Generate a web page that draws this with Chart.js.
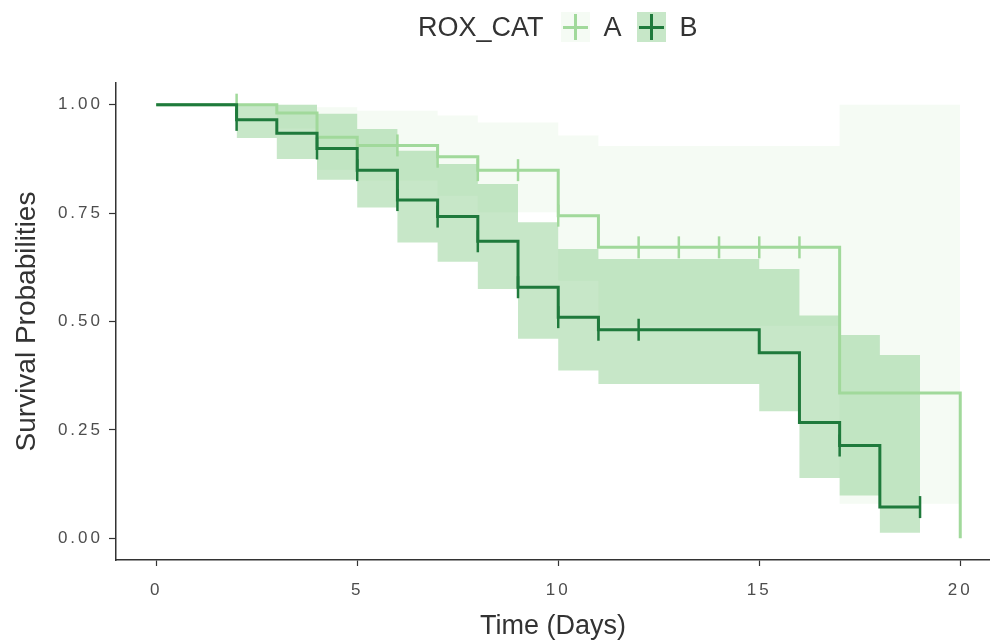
<!DOCTYPE html>
<html>
<head>
<meta charset="utf-8">
<script src="https://cdn.jsdelivr.net/npm/chart.js@4.4.0/dist/chart.umd.min.js"></script>
<style>
  html, body { margin: 0; padding: 0; background: #fff; }
  #wrap { position: relative; width: 990px; height: 641px; }
  #legend {
    position: absolute; left: 418px; top: 12px; height: 30px;
    display: flex; align-items: center;
    font-family: 'Liberation Sans', Arial, sans-serif; font-size: 27px; color: #333;
  }
  #legend .key { position: relative; width: 29px; height: 30px; margin: 0 14px 0 17px; }
  #legend .key::before, #legend .key::after { content: ''; position: absolute; background: var(--c); }
  #legend .key::before { left: 2px; right: 2px; top: 13.5px; height: 3px; }
  #legend .key::after { top: 2px; bottom: 2px; left: 13px; width: 3px; }
  #legend .lab { margin-right: -2px; }
</style>
</head>
<body>
<div id="wrap">
  <canvas id="km" width="990" height="641"></canvas>
  <div id="legend"></div>
</div>
<script>
// ── Data ────────────────────────────────────────────────────────────────────
const LEGEND_TITLE = 'ROX_CAT';
const GROUPS       = ['A', 'B'];

// Kaplan-Meier steps
const DAYS_A = [0, 3, 4, 5, 7, 8, 10, 11, 17, 20];
const SURV_A = [1, 0.981, 0.925, 0.906, 0.880, 0.849, 0.744, 0.671, 0.335, 0];
const DAYS_B = [0, 2, 3, 4, 5, 6, 7, 8, 9, 10, 11, 15, 16, 17, 18, 19];
const SURV_B = [1, 0.965, 0.934, 0.899, 0.849, 0.780, 0.742, 0.685, 0.579, 0.510, 0.481, 0.428, 0.267, 0.214, 0.072, 0.072];

// Confidence bands
const CI_DAYS_A  = [3, 4, 5, 7, 8, 10, 11, 17, 20];
const CI_UPPER_A = [1.0, 0.994, 0.986, 0.975, 0.959, 0.929, 0.905, 1.0, 1.0];
const CI_LOWER_A = [0.945, 0.85, 0.825, 0.79, 0.752, 0.594, 0.49, 0.08, 0.08];
const CI_DAYS_B  = [2, 3, 4, 5, 6, 7, 8, 9, 10, 11, 15, 16, 17, 18, 19];
const CI_UPPER_B = [1.0, 1.0, 0.979, 0.944, 0.894, 0.863, 0.817, 0.729, 0.667, 0.644, 0.621, 0.514, 0.469, 0.423, 0.423];
const CI_LOWER_B = [0.923, 0.875, 0.827, 0.763, 0.682, 0.638, 0.575, 0.460, 0.387, 0.356, 0.293, 0.139, 0.099, 0.013, 0.013];

// Censored observations
const CENS_DAYS_A = [2, 6, 7, 8, 9, 10, 12, 13, 14, 15, 16];
const CENS_SURV_A = [1, 0.906, 0.880, 0.849, 0.849, 0.744, 0.671, 0.671, 0.671, 0.671, 0.671];
const CENS_DAYS_B = [2, 4, 5, 6, 7, 8, 9, 10, 11, 12, 17, 19];
const CENS_SURV_B = [0.965, 0.899, 0.849, 0.780, 0.742, 0.685, 0.579, 0.510, 0.481, 0.481, 0.214, 0.072];

const X_TICKS = [0, 5, 10, 15, 20];
const Y_TICKS = [0, 0.25, 0.5, 0.75, 1];

// ── Colours ────────────────────────────────────────────────────────────────
const COL_A  = '#a1d99b';
const COL_B  = '#1f7a3c';
const BAND_A = 'rgba(161,217,155,0.11)';
const BAND_B = 'rgba(116,196,118,0.40)';
const AXIS   = '#333333';
const FONT   = "'Liberation Sans', Arial, sans-serif";

const pts = (xs, ys) => xs.map((x, i) => ({ x, y: ys[i] }));

function bandSets(xs, up, lo, fill, order) {
  const base = { stepped: true, borderWidth: 0, pointRadius: 0, order };
  return [
    { ...base, data: pts(xs, up), fill: false },
    { ...base, data: pts(xs, lo), fill: '-1', backgroundColor: fill },
  ];
}

function kmLine(xs, ys, color, order) {
  return { data: pts(xs, ys), stepped: true, borderColor: color, borderWidth: 3,
           pointRadius: 0, fill: false, order };
}

function censor(xs, ys, color, order) {
  return { data: pts(xs, ys), showLine: false, pointStyle: 'line', rotation: 90,
           pointRadius: 11, borderColor: color, pointBorderWidth: 2.5, order };
}

// tick labels in the reference are loosely spaced
const tickSpacing = {
  id: 'tickSpacing',
  afterLayout(chart) {
    Object.values(chart.scales).forEach(s => {
      if (s._spaced) return;
      const orig = s.drawLabels;
      s.drawLabels = function (area) {
        this.ctx.save();
        this.ctx.letterSpacing = '3px';
        orig.call(this, area);
        this.ctx.restore();
      };
      s._spaced = true;
    });
  }
};

new Chart(document.getElementById('km'), {
  type: 'line',
  data: {
    datasets: [
      ...bandSets(CI_DAYS_A, CI_UPPER_A, CI_LOWER_A, BAND_A, 6),
      ...bandSets(CI_DAYS_B, CI_UPPER_B, CI_LOWER_B, BAND_B, 5),
      kmLine(DAYS_A, SURV_A, COL_A, 4),
      censor(CENS_DAYS_A, CENS_SURV_A, COL_A, 3),
      kmLine(DAYS_B, SURV_B, COL_B, 2),
      censor(CENS_DAYS_B, CENS_SURV_B, COL_B, 1),
    ]
  },
  plugins: [tickSpacing],
  options: {
    responsive: false,
    animation: false,
    events: [],
    layout: { autoPadding: false, padding: { top: 83, right: 0, bottom: 0, left: 0 } },
    plugins: { legend: { display: false }, tooltip: { enabled: false } },
    scales: {
      x: {
        type: 'linear', min: -1, max: 20.74,
        afterBuildTicks: s => { s.ticks = X_TICKS.map(v => ({ value: v })); },
        afterFit: s => { s.height = 81; s.paddingLeft = 0; s.paddingRight = 0; },
        grid: { drawOnChartArea: false, tickLength: 6, color: AXIS, tickWidth: 1.2 },
        border: { color: AXIS, width: 1.5 },
        ticks: { color: '#4d4d4d', font: { family: FONT, size: 17 }, padding: 14, maxRotation: 0 },
        title: { display: true, text: 'Time (Days)', color: '#333',
                 font: { family: FONT, size: 27, lineHeight: 1 }, padding: { top: 0, bottom: 1 } }
      },
      y: {
        min: -0.05, max: 1.05,
        afterBuildTicks: s => { s.ticks = Y_TICKS.map(v => ({ value: v })); },
        afterFit: s => { s.width = 116; s.paddingTop = 0; s.paddingBottom = 0; },
        grid: { drawOnChartArea: false, tickLength: 7, color: AXIS, tickWidth: 1.2 },
        border: { color: AXIS, width: 1.5 },
        ticks: { color: '#4d4d4d', font: { family: FONT, size: 17 }, padding: 6,
                 callback: v => v.toFixed(2) },
        title: { display: true, text: 'Survival Probabilities', color: '#333',
                 font: { family: FONT, size: 28, lineHeight: 1 }, padding: { top: 13, bottom: 0 } }
      }
    }
  }
});

// ── Legend (title + boxed "+" keys) ────────────────────────────────────────
const legend = document.getElementById('legend');
legend.innerHTML = `<span>${LEGEND_TITLE}</span>`;
[[COL_A, BAND_A], [COL_B, BAND_B]].forEach(([line, band], i) => {
  const key = document.createElement('span');
  key.className = 'key';
  key.style.background = band;
  key.style.setProperty('--c', line);
  const lab = document.createElement('span');
  lab.className = 'lab';
  lab.textContent = GROUPS[i];
  legend.append(key, lab);
});
</script>
</body>
</html>
